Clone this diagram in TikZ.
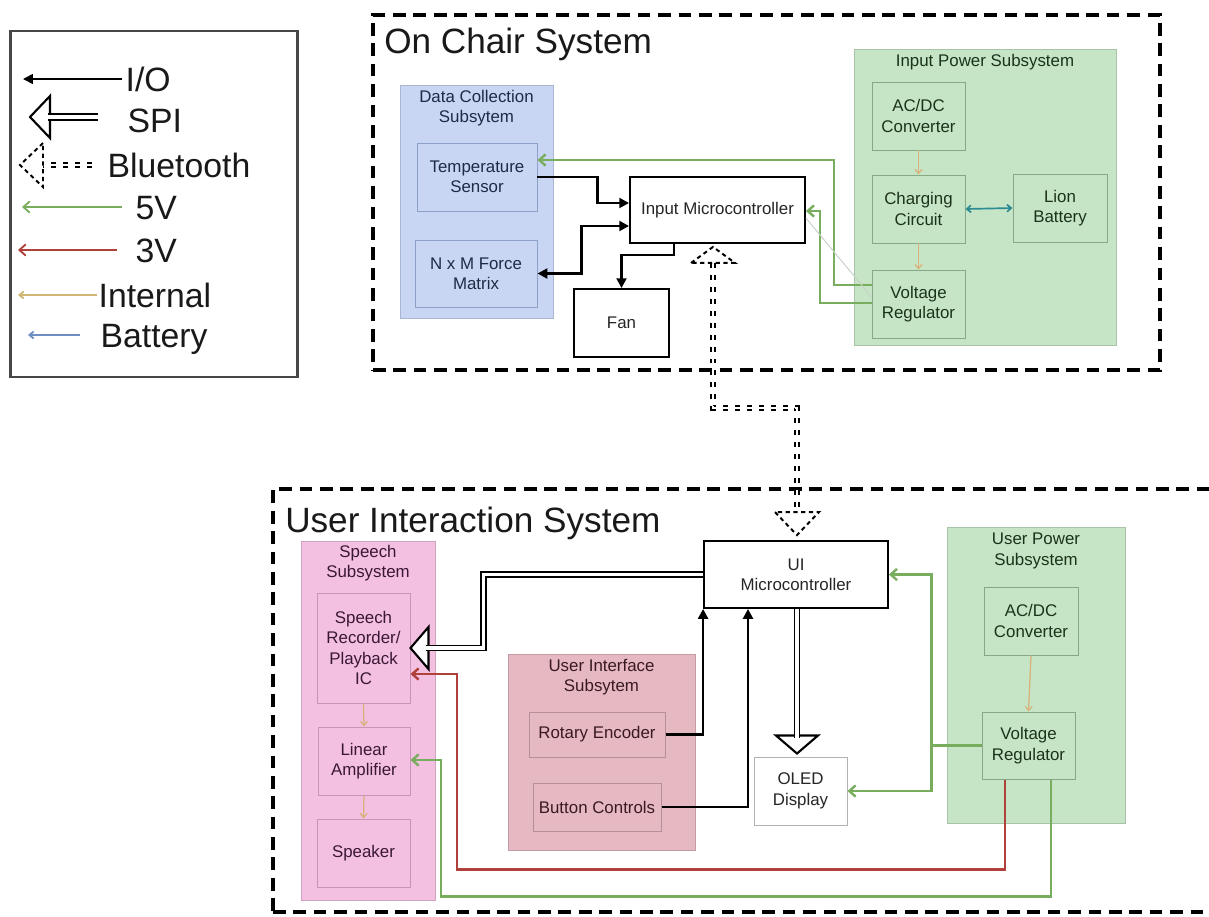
\documentclass[tikz,border=0pt]{standalone}
\usepackage{fontspec}
\setmainfont{Liberation Sans}
\usetikzlibrary{arrows.meta,calc}
\definecolor{dcfill}{HTML}{C8D6F4}
\definecolor{dcedge}{HTML}{8DA0C6}
\definecolor{dctext}{HTML}{1E2B45}
\definecolor{pwfill}{HTML}{C6E5C6}
\definecolor{pwedge}{HTML}{86A886}
\definecolor{pwtext}{HTML}{1B331B}
\definecolor{spfill}{HTML}{F4C0E2}
\definecolor{spedge}{HTML}{C596B6}
\definecolor{sptext}{HTML}{3A1835}
\definecolor{uifill}{HTML}{E6B8C2}
\definecolor{uiedge}{HTML}{B88F98}
\definecolor{uitext}{HTML}{3A1A22}
\definecolor{vfive}{HTML}{78AD5E}
\definecolor{vthree}{HTML}{B0413A}
\definecolor{intc}{HTML}{D7B27A}
\definecolor{batc}{HTML}{2E8B94}
\definecolor{legbat}{HTML}{6F8FC4}
\definecolor{legint}{HTML}{D2B673}
\definecolor{faintc}{HTML}{C8D2C8}
\definecolor{legframe}{HTML}{474747}
\tikzset{
  wh/.style 2 args={minimum width=#1*0.025cm,minimum height=#2*0.025cm},
  boxtext/.style={font=\fontsize{12}{14.5}\selectfont,align=center,inner sep=0pt},
  systitle/.style={font=\fontsize{25}{30}\selectfont,inner sep=0pt,anchor=base west,text=black!90},
  legtext/.style={font=\fontsize{24}{28}\selectfont,inner sep=1pt,anchor=west,text height=17.2pt,text depth=0pt,text=black!90},
  legbox/.style={draw=legframe,line width=2pt},
  sysframe/.style={draw=black,line width=2.8pt,dash pattern=on 9pt off 5.5pt},
  dcgroup/.style={fill=dcfill,draw=dcfill!85!black,line width=0.4pt},
  pwgroup/.style={fill=pwfill,draw=pwfill!85!black,line width=0.4pt},
  spgroup/.style={fill=spfill,draw=spfill!85!black,line width=0.4pt},
  uigroup/.style={fill=uifill,draw=uifill!85!black,line width=0.4pt},
  dcblock/.style={boxtext,draw=dcedge,line width=0.7pt,text=dctext},
  pwblock/.style={boxtext,draw=pwedge,line width=0.7pt,text=pwtext},
  spblock/.style={boxtext,draw=spedge,line width=0.7pt,text=sptext},
  uiblock/.style={boxtext,draw=uiedge,line width=0.7pt,text=uitext},
  mcu/.style={boxtext,draw=black,line width=1.3pt,fill=white,text=black!85},
  dispbox/.style={boxtext,draw=black!30,line width=0.7pt,fill=white,text=black!85},
  ioline/.style={draw=black,line width=1.9pt,-{Triangle[length=7pt,width=7pt]}},
  iolineb/.style={ioline,{Triangle[length=7pt,width=7pt]}-{Triangle[length=7pt,width=7pt]}},
  fivev/.style={draw=vfive,line width=1.7pt,-{Straight Barb[length=4.5pt,width=8pt]}},
  threev/.style={draw=vthree,line width=1.7pt,-{Straight Barb[length=4.5pt,width=8pt]}},
  intl/.style={draw=intc,line width=0.9pt,-{Straight Barb[length=3pt,width=5pt]}},
  batl/.style={draw=batc,line width=1.2pt,{Straight Barb[length=3pt,width=5pt]}-{Straight Barb[length=3pt,width=5pt]}},
  faint/.style={draw=faintc,line width=0.7pt},
  spiline/.style={draw=black,line width=1.2pt,double=white,double distance=2.4pt},
  spihead/.style={draw=black,fill=white,line width=1.5pt,line join=miter},
  btline/.style={draw=black,line width=1pt,double=white,double distance=2pt,dash pattern=on 3.5pt off 5pt},
  bthead/.style={draw=black,line width=1.4pt,dash pattern=on 3pt off 2.5pt,line join=miter},
}
\begin{document}
\begin{tikzpicture}[x=0.025cm,y=-0.025cm]
\useasboundingbox (0,0) rectangle (1209,916);
\node[legbox,wh={287}{346}] (legend) at (154,204) {};
\node[legtext] (lio) at (124,79) {I/O};
\node[legtext] (lspi) at (126,120) {SPI};
\node[legtext] (lbt) at (106,165) {Bluetooth};
\node[legtext] (lfive) at (134,207) {5V};
\node[legtext] (lthree) at (134,250) {3V};
\node[legtext] (lint) at (97,295) {Internal};
\node[legtext] (lbat) at (99,335) {Battery};
\coordinate (cio) at (23,79);
\coordinate (cspi) at (30,117);
\coordinate (cbt) at (20,165);
\coordinate (cfive) at (22,207);
\coordinate (cthree) at (18,250);
\coordinate (cint) at (18,295);
\coordinate (cbat) at (28,335);
\draw[ioline,line width=1.2pt] ($(lio.west)+(-2,0)$) -- (cio);
\draw[spihead] ($(cspi)+(20,-21)$) -- (cspi) -- ($(cspi)+(20,21)$) -- cycle;
\draw[spiline,double distance=3pt] ($(lspi.west)+(-28,-3)$) -- ($(cspi)+(18,0)$);
\draw[btline] ($(lbt.west)+(-14,0)$) -- ($(cbt)+(23,0)$);
\draw[bthead] ($(cbt)+(23,-22)$) -- (cbt) -- ($(cbt)+(23,22)$) -- cycle;
\draw[fivev,line width=1.3pt] ($(lfive.west)+(-12,0)$) -- (cfive);
\draw[threev,line width=1.3pt] ($(lthree.west)+(-17,0)$) -- (cthree);
\draw[intl,draw=legint,line width=1.3pt] (lint.west) -- (cint);
\draw[intl,draw=legbat,line width=1.3pt] ($(lbat.west)+(-19,0)$) -- (cbat);
\node[sysframe,wh={787}{355}] (chair) at (766.5,192.5) {};
\node[sysframe,wh={950}{423}] (uisys) at (748,700.5) {};
\node[systitle] (chairtitle) at (384,53) {On Chair System};
\node[systitle] (uititle) at (285,532) {User Interaction System};
\node[dcgroup,wh={153}{233}] (dcs) at (476.5,201.5) {};
\node[boxtext,text=dctext] (dcstitle) at (476.5,108) {Data Collection\\Subsytem};
\node[dcblock,wh={120}{68}] (temp) at (477,177) {Temperature\\Sensor};
\node[dcblock,wh={122}{67}] (force) at (476,273.5) {N x M Force\\Matrix};
\node[mcu,wh={175}{66}] (imc) at (717.5,210) {Input Microcontroller};
\node[mcu,wh={95}{68}] (fan) at (621.5,323) {Fan};
\node[pwgroup,wh={262}{296}] (ips) at (985,197) {};
\node[boxtext,text=pwtext] (ipstitle) at (985,62) {Input Power Subsystem};
\node[pwblock,wh={93}{68}] (acdc1) at (918.5,116) {AC/DC\\Converter};
\node[pwblock,wh={93}{68}] (chg) at (918.5,209) {Charging\\Circuit};
\node[pwblock,wh={94}{68}] (lion) at (1060,208) {Lion\\Battery};
\node[pwblock,wh={93}{68}] (vr1) at (918.5,304) {Voltage\\Regulator};
\node[spgroup,wh={134}{359}] (ss) at (368,720.5) {};
\node[boxtext,text=sptext] (sstitle) at (368,563) {Speech\\Subsystem};
\node[spblock,wh={93}{110}] (sric) at (363.5,648) {Speech\\Recorder/\\Playback\\IC};
\node[spblock,wh={92}{68}] (amp) at (364,761) {Linear\\Amplifier};
\node[spblock,wh={93}{68}] (spk) at (363.5,853) {Speaker};
\node[uigroup,wh={187}{196}] (uis) at (601.5,752) {};
\node[boxtext,text=uitext] (uistitle) at (601.5,677) {User Interface\\Subsytem};
\node[uiblock,wh={136}{45}] (rot) at (597,734.5) {Rotary Encoder};
\node[uiblock,wh={128}{48}] (btn) at (597,807) {Button Controls};
\node[mcu,wh={184}{67}] (uimc) at (796,574.5) {UI\\Microcontroller};
\node[dispbox,wh={93}{68}] (oled) at (800.5,791) {OLED\\Display};
\node[pwgroup,wh={178}{296}] (ups) at (1036,675) {};
\node[boxtext,text=pwtext] (upstitle) at (1036,551) {User Power\\Subsystem};
\node[pwblock,wh={94}{68}] (acdc2) at (1031,621) {AC/DC\\Converter};
\node[pwblock,wh={93}{67}] (vr2) at (1028.5,745.5) {Voltage\\Regulator};
\draw[ioline] (temp.east) -- ++(60,0) |- (imc.west |- 0,203);
\draw[iolineb] (force.east) -- ++(44,0) |- (imc.west |- 0,226);
\draw[ioline] (imc.south -| 674,0) -- ++(0,11) -| (fan.north);
\draw[fivev] (vr1.west |- 0,285) -| (834,160) -- (temp.east |- 0,160);
\draw[fivev] (vr1.west |- 0,303) -| (820,211) -- (imc.east |- 0,211);
\draw[faint] (imc.east |- 0,218) -- (vr1.west |- 0,297);
\draw[intl] (acdc1.south) -- (chg.north);
\draw[intl] (chg.south) -- (vr1.north);
\draw[batl] (chg.east) -- (lion.west);
\draw[intl] (sric.south) -- (amp.north);
\draw[intl] (amp.south) -- (spk.north);
\draw[intl] (acdc2.south) -- (vr2.north);
\draw[ioline] (rot.east) -| (uimc.south west);
\draw[ioline] (btn.east) -| (uimc.south -| 748,0);
\draw[fivev] (vr2.west) -- ++(-50,0) |- (uimc.east);
\draw[fivev] (vr2.west) -- ++(-50,0) |- (oled.east);
\draw[threev] (vr2.south -| 1005,0) -- ++(0,90) -| (457,674) -- (sric.east |- 0,674);
\draw[fivev] (vr2.south -| 1051,0) -- ++(0,117) -| (441,760) -- (amp.east |- 0,760);
\draw[spihead] ($(sric.east)+(18,-21)$) -- (sric.east) -- ($(sric.east)+(18,21)$) -- cycle;
\draw[spiline] (uimc.west) -| ($(sric.east)+(73,0)$) -- ($(sric.east)+(16,0)$);
\coordinate (oledtip) at ($(oled.north -| 797,0)+(0,-3)$);
\draw[spihead] ($(oledtip)+(-21,-18)$) -- (oledtip) -- ($(oledtip)+(21,-18)$) -- cycle;
\draw[spiline] (uimc.south -| oledtip) -- ($(oledtip)+(0,-16)$);
\coordinate (bta) at ($(imc.south -| 713,0)+(0,3)$);
\coordinate (btb) at ($(uimc.north -| 797,0)+(0,-5)$);
\draw[btline] ($(bta)+(0,16)$) -- (713,408) -| ($(btb)+(0,-23)$);
\draw[bthead] ($(bta)+(-22,16)$) -- (bta) -- ($(bta)+(22,16)$) -- cycle;
\draw[bthead] ($(btb)+(-22,-23)$) -- (btb) -- ($(btb)+(22,-23)$) -- cycle;
\end{tikzpicture}
\end{document}
